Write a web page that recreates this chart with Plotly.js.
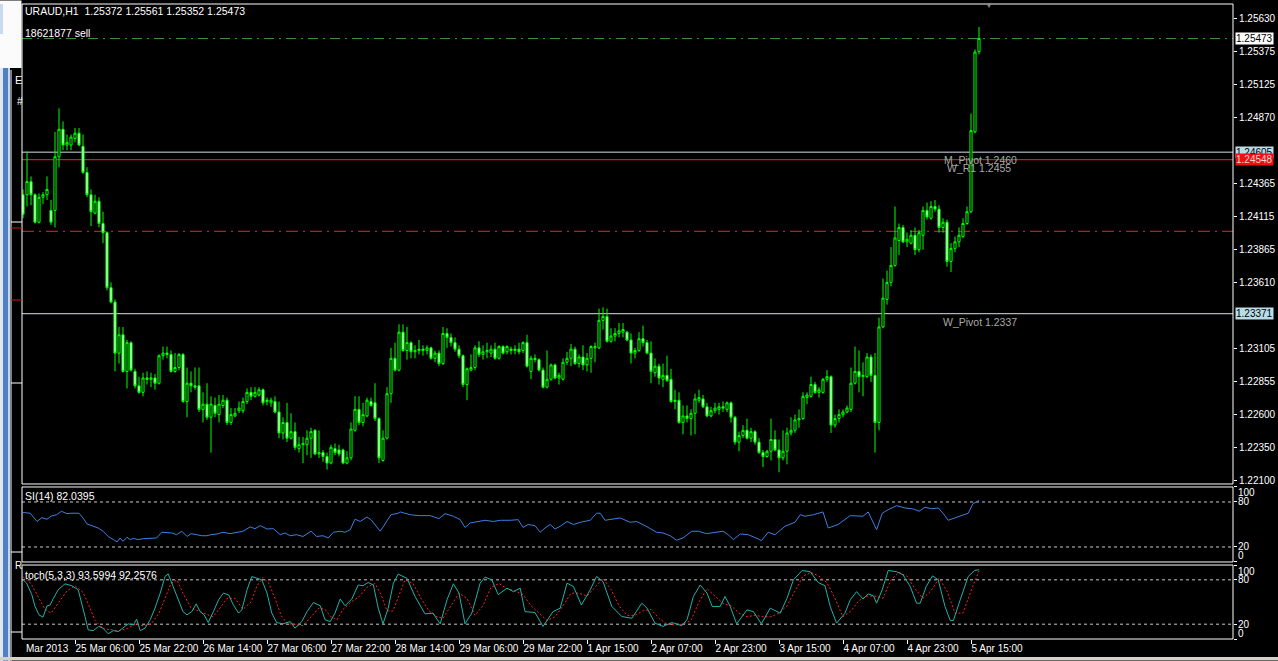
<!DOCTYPE html>
<html><head><meta charset="utf-8">
<script src="https://cdn.plot.ly/plotly-3.0.1.min.js"></script>
<style>html,body{margin:0;padding:0;background:#000;overflow:hidden}#chart{width:1278px;height:661px}</style>
</head><body><div id="chart"></div>
<script>
// ---------- DATA (EURAUD H1) ----------
const FIRST_BAR = 3;
const open = [
1.2428,1.2428,1.2438,1.2428,1.2407,1.2426,1.2428,
1.2416,1.2416,1.2457,1.2478,1.2466,1.2466,1.2471,1.2475,1.2465,1.2445,
1.2428,1.2414,1.2423,1.2406,1.2399,1.2357,1.2346,1.2307,1.2321,1.2293,
1.2315,1.2293,1.2282,1.2277,1.2288,1.2287,1.2288,1.2284,1.2305,1.2307,
1.2306,1.2293,1.2296,1.2306,1.2270,1.2284,1.2282,1.2282,1.2264,1.2268,
1.2258,1.2267,1.2260,1.2267,1.2271,1.2254,1.2259,1.2263,1.2263,1.2270,
1.2277,1.2274,1.2275,1.2279,1.2270,1.2269,1.2270,1.2262,1.2246,1.2254,
1.2242,1.2247,1.2234,1.2237,1.2237,1.2242,1.2248,1.2230,1.2231,1.2228,
1.2223,1.2234,1.2233,1.2233,1.2223,1.2227,1.2248,1.2264,1.2254,1.2259,
1.2270,1.2269,1.2257,1.2225,1.2242,1.2276,1.2303,1.2294,1.2323,1.2309,
1.2315,1.2308,1.2309,1.2310,1.2309,1.2311,1.2303,1.2307,1.2299,1.2322,
1.2319,1.2315,1.2310,1.2305,1.2283,1.2294,1.2296,1.2311,1.2306,1.2308,
1.2307,1.2310,1.2303,1.2312,1.2308,1.2310,1.2309,1.2310,1.2309,1.2315,
1.2293,1.2303,1.2302,1.2294,1.2281,1.2287,1.2298,1.2288,1.2287,1.2300,
1.2303,1.2310,1.2299,1.2304,1.2298,1.2303,1.2311,1.2311,1.2332,1.2335,
1.2316,1.2320,1.2322,1.2323,1.2323,1.2317,1.2307,1.2309,1.2318,1.2315,
1.2307,1.2292,1.2297,1.2287,1.2290,1.2287,1.2270,1.2271,1.2254,1.2259,
1.2257,1.2261,1.2271,1.2272,1.2266,1.2259,1.2263,1.2264,1.2266,1.2264,
1.2269,1.2258,1.2239,1.2244,1.2248,1.2242,1.2247,1.2239,1.2231,1.2228,
1.2232,1.2241,1.2233,1.2227,1.2232,1.2246,1.2248,1.2256,1.2257,1.2273,
1.2274,1.2283,1.2277,1.2277,1.2287,1.2289,1.2252,1.2257,1.2260,1.2262,
1.2264,1.2284,1.2293,1.2289,1.2289,1.2304,1.2290,1.2254,1.2327,1.2348,
1.2361,1.2374,1.2393,1.2403,1.2392,1.2391,1.2397,1.2386,1.2397,1.2416,
1.2410,1.2419,1.2417,1.2403,1.2407,1.2377,1.2387,1.2392,1.2396,1.2406,
1.2415,1.2476,1.25372];
const high = [
1.2432,1.2461,1.2442,1.2429,1.2429,1.2430,1.2442,
1.2424,1.2476,1.2494,1.2484,1.2474,1.2474,1.2479,1.2479,1.2474,1.2449,
1.2432,1.2428,1.2426,1.2415,1.2400,1.2361,1.2348,1.2327,1.2327,1.2317,
1.2316,1.2295,1.2289,1.2292,1.2293,1.2292,1.2291,1.2306,1.2312,1.2312,
1.2309,1.2307,1.2307,1.2307,1.2296,1.2293,1.2296,1.2296,1.2277,1.2284,
1.2274,1.2273,1.2275,1.2275,1.2273,1.2265,1.2265,1.2270,1.2273,1.2280,
1.2281,1.2281,1.2281,1.2280,1.2273,1.2273,1.2274,1.2270,1.2258,1.2269,
1.2261,1.2254,1.2243,1.2243,1.2248,1.2250,1.2249,1.2248,1.2233,1.2231,
1.2237,1.2238,1.2237,1.2234,1.2232,1.2254,1.2274,1.2274,1.2269,1.2273,
1.2273,1.2284,1.2258,1.2248,1.2281,1.2311,1.2315,1.2329,1.2329,1.2327,
1.2316,1.2313,1.2317,1.2313,1.2313,1.2312,1.2309,1.2309,1.2327,1.2326,
1.2322,1.2319,1.2313,1.2306,1.2296,1.2306,1.2313,1.2316,1.2313,1.2315,
1.2313,1.2315,1.2313,1.2313,1.2313,1.2312,1.2313,1.2315,1.2316,1.2321,
1.2305,1.2306,1.2303,1.2296,1.2309,1.2299,1.2299,1.2292,1.2303,1.2308,
1.2314,1.2312,1.2306,1.2313,1.2307,1.2313,1.2315,1.2341,1.2342,1.2341,
1.2326,1.2326,1.2330,1.2330,1.2324,1.2322,1.2311,1.2323,1.2328,1.2317,
1.2316,1.2303,1.2299,1.2299,1.2305,1.2295,1.2279,1.2277,1.2267,1.2267,
1.2264,1.2276,1.2279,1.2275,1.2269,1.2266,1.2269,1.2269,1.2270,1.2270,
1.2270,1.2259,1.2247,1.2252,1.2257,1.2250,1.2248,1.2242,1.2233,1.2233,
1.2257,1.2248,1.2241,1.2248,1.2250,1.2258,1.2260,1.2264,1.2277,1.2277,
1.2289,1.2285,1.2281,1.2288,1.2294,1.2290,1.2260,1.2264,1.2264,1.2267,
1.2296,1.2312,1.2309,1.2300,1.2307,1.2306,1.2307,1.2334,1.2364,1.2370,
1.2388,1.2419,1.2406,1.2405,1.2399,1.2401,1.2403,1.2401,1.2419,1.2422,
1.2423,1.2424,1.2420,1.2410,1.2409,1.2391,1.2396,1.2403,1.2410,1.2419,
1.2490,1.2539,1.25561];
const low = [
1.2410,1.2419,1.2420,1.2406,1.2406,1.2421,1.2424,
1.2405,1.2403,1.2449,1.2462,1.2462,1.2462,1.2468,1.2465,1.2444,1.2426,
1.2404,1.2413,1.2403,1.2391,1.2355,1.2345,1.2293,1.2299,1.2292,1.2280,
1.2293,1.2280,1.2276,1.2274,1.2283,1.2281,1.2279,1.2283,1.2302,1.2303,
1.2292,1.2292,1.2294,1.2269,1.2258,1.2277,1.2279,1.2262,1.2254,1.2256,
1.2231,1.2258,1.2254,1.2265,1.2252,1.2252,1.2258,1.2261,1.2261,1.2268,
1.2271,1.2273,1.2274,1.2267,1.2267,1.2266,1.2261,1.2242,1.2241,1.2239,
1.2241,1.2233,1.2231,1.2223,1.2229,1.2227,1.2229,1.2227,1.2224,1.2218,
1.2222,1.2229,1.2228,1.2222,1.2222,1.2225,1.2247,1.2252,1.2251,1.2258,
1.2266,1.2255,1.2223,1.2224,1.2241,1.2269,1.2293,1.2293,1.2308,1.2302,
1.2303,1.2303,1.2306,1.2305,1.2306,1.2302,1.2300,1.2297,1.2298,1.2311,
1.2312,1.2308,1.2303,1.2281,1.2271,1.2293,1.2294,1.2304,1.2302,1.2303,
1.2304,1.2302,1.2302,1.2306,1.2306,1.2306,1.2306,1.2306,1.2307,1.2296,
1.2287,1.2300,1.2293,1.2280,1.2280,1.2286,1.2287,1.2283,1.2286,1.2298,
1.2297,1.2298,1.2296,1.2294,1.2293,1.2292,1.2300,1.2310,1.2325,1.2315,
1.2315,1.2316,1.2319,1.2319,1.2316,1.2299,1.2303,1.2308,1.2312,1.2306,
1.2284,1.2289,1.2283,1.2281,1.2285,1.2269,1.2264,1.2253,1.2245,1.2254,
1.2244,1.2245,1.2269,1.2265,1.2258,1.2258,1.2261,1.2260,1.2262,1.2262,
1.2254,1.2237,1.2232,1.2242,1.2241,1.2239,1.2237,1.2230,1.2220,1.2227,
1.2225,1.2232,1.2216,1.2225,1.2222,1.2244,1.2246,1.2250,1.2256,1.2268,
1.2273,1.2276,1.2273,1.2276,1.2285,1.2246,1.2250,1.2254,1.2258,1.2261,
1.2262,1.2283,1.2277,1.2274,1.2288,1.2285,1.2231,1.2248,1.2326,1.2344,
1.2358,1.2373,1.2382,1.2391,1.2388,1.2390,1.2382,1.2384,1.2386,1.2409,
1.2409,1.2415,1.2399,1.2399,1.2373,1.2369,1.2384,1.2388,1.2395,1.2405,
1.2414,1.2475,1.25352];
const close = [
1.2413,1.2438,1.2428,1.2407,1.2426,1.2428,1.2432,
1.2407,1.2457,1.2478,1.2466,1.2468,1.2472,1.2475,1.2466,1.2445,1.2428,
1.2415,1.2423,1.2406,1.2399,1.2357,1.2346,1.2307,1.2321,1.2293,1.2315,
1.2294,1.2282,1.2277,1.2288,1.2287,1.2288,1.2284,1.2305,1.2307,1.2306,
1.2293,1.2296,1.2306,1.2270,1.2284,1.2282,1.2281,1.2264,1.2268,1.2258,
1.2268,1.2261,1.2268,1.2271,1.2254,1.2260,1.2261,1.2265,1.2270,1.2277,
1.2274,1.2277,1.2279,1.2269,1.2271,1.2271,1.2262,1.2246,1.2254,1.2242,
1.2247,1.2235,1.2237,1.2238,1.2242,1.2247,1.2230,1.2231,1.2228,1.2223,
1.2235,1.2231,1.2230,1.2223,1.2227,1.2249,1.2264,1.2254,1.2260,1.2271,
1.2267,1.2257,1.2227,1.2242,1.2276,1.2303,1.2294,1.2323,1.2309,1.2315,
1.2308,1.2309,1.2310,1.2309,1.2311,1.2303,1.2307,1.2299,1.2322,1.2319,
1.2315,1.2310,1.2305,1.2283,1.2295,1.2296,1.2311,1.2306,1.2308,1.2309,
1.2310,1.2303,1.2312,1.2307,1.2312,1.2309,1.2310,1.2308,1.2315,1.2297,
1.2303,1.2302,1.2294,1.2281,1.2287,1.2298,1.2288,1.2290,1.2300,1.2303,
1.2310,1.2299,1.2304,1.2298,1.2303,1.2312,1.2312,1.2332,1.2335,1.2316,
1.2320,1.2322,1.2324,1.2325,1.2317,1.2307,1.2309,1.2318,1.2315,1.2307,
1.2293,1.2297,1.2288,1.2290,1.2286,1.2270,1.2271,1.2254,1.2259,1.2257,
1.2261,1.2272,1.2273,1.2266,1.2259,1.2263,1.2265,1.2266,1.2265,1.2269,
1.2258,1.2239,1.2244,1.2248,1.2242,1.2247,1.2239,1.2231,1.2228,1.2232,
1.2241,1.2233,1.2227,1.2232,1.2246,1.2248,1.2256,1.2257,1.2274,1.2275,
1.2283,1.2277,1.2279,1.2287,1.2289,1.2252,1.2257,1.2260,1.2262,1.2265,
1.2284,1.2293,1.2289,1.2290,1.2304,1.2290,1.2254,1.2327,1.2349,1.2361,
1.2374,1.2395,1.2403,1.2392,1.2394,1.2397,1.2386,1.2399,1.2416,1.2411,
1.2419,1.2417,1.2403,1.2407,1.2377,1.2387,1.2392,1.2397,1.2406,1.2415,
1.2477,1.2537,1.25473];

// RSI(14): [bar, value]
const rsiPoints = [[3,66],[4.8,65],[6.5,54],[7.7,59],[9,57],[10,61],[11.4,63],[12.6,67.6],[14,64.4],[15,65],[17,65],[18,58.7],[19,50.7],[20.5,47.6],[21.8,45.3],[23,41],[24.3,34],[25.6,29.8],[26.5,26.7],[27.3,32],[28,27.6],[29,33],[29.8,29.8],[30.6,31.5],[31.8,29.8],[33,31],[34.8,32],[36.4,32],[37.7,39.6],[39,39.6],[40.2,38.7],[41.4,36.4],[42.7,41],[44,34],[45,37.8],[46.4,36.4],[47.7,35],[49,35],[50,36.4],[51.5,37.3],[53,39.6],[54.8,37.8],[56.4,39.6],[58,41],[59.8,46.7],[61,44.4],[62.3,48.4],[64,44],[65.6,44.4],[67.3,36.4],[68.5,38.7],[69.8,35],[71.4,36.4],[73,34],[75,41],[76.4,34],[78,35],[79.3,32],[80.6,39.6],[82.3,41],[83.5,39.6],[84.8,43],[86,57],[87.3,54],[89,60],[90,56.4],[92.3,41],[94,54],[95,63],[96.8,65],[97.3,66.7],[99.8,63],[102,61.8],[104.8,61.8],[107,57.8],[108.5,64.4],[110.6,61],[112.3,56.4],[113.5,46],[114.8,52],[116.4,54],[118.5,55.6],[120.6,54],[122.3,55.6],[124.8,55.6],[126.8,56.4],[128,46],[129.3,50],[131,48.4],[132.3,39.6],[133.5,45.3],[134.8,50],[136,44],[137.3,47.6],[139,54],[140.6,50],[142.6,53.3],[144.8,55.6],[146.4,65],[147.3,65],[148.5,55.6],[150.6,57.3],[152.3,58.7],[154.8,52.9],[156.4,54],[158.5,48.4],[160.2,43],[161.4,39.6],[163,38.7],[164.8,35],[166.4,29],[168,32],[170.2,41],[171.8,41],[173.9,37.8],[176,39.6],[178,41],[179.3,36.4],[180.6,29.8],[182.3,37.3],[184.3,36.4],[186.8,30.7],[187.6,28.4],[189.3,39.6],[191,36.4],[193.5,47.6],[196,53],[197.3,63],[198.5,61],[200.6,63],[203,66.7],[204.3,45.3],[206.8,50],[209.8,61.8],[213,61],[214.3,66.7],[216.4,43],[217.8,65],[219.3,69.8],[221.4,75],[223.5,72],[225.6,70.7],[227,67.6],[228.5,72.9],[230.2,71],[231.8,72],[233,65],[234.3,55.6],[236,58.7],[238.1,61.8],[239.3,65],[240.5,77.8],[241.4,81],[242,82.04]];

// Stochastic(5,3,3) main %K: [bar, value]
const stochMainPoints = [[3,80],[3.9,75.5],[5.2,60],[6,44],[7,32.6],[8,29.5],[9,44.8],[9.8,46],[10.6,55],[11.8,66.5],[13.5,74.6],[15.2,72],[16.8,66.5],[17.6,50.7],[18.5,30.4],[19.3,12.3],[20.6,11.4],[21.9,17],[23,14.6],[24.3,7],[25.6,11.4],[26.8,10],[28,14.6],[29.3,20.5],[30.6,19],[31.4,26.8],[32.3,11.4],[33.5,14.6],[34.8,26],[36,41.7],[37.3,62],[38.5,84.5],[39.3,88],[40.6,71],[41.8,55],[43,37],[44,32.6],[45.2,37],[46.3,47.5],[47.3,37],[48.3,32.6],[49.3,22.3],[50.6,37],[51.9,53],[53.1,62],[54.4,59.7],[55.6,46],[56.9,35],[57.7,39.4],[59,66.5],[60.2,84.5],[61.4,82],[62.7,80],[64,62],[65.2,35],[66.4,22.3],[68,20.5],[69.8,23.6],[71,14.6],[72.7,23.6],[74,37],[75.6,49.3],[77.3,45],[78.5,26],[79.8,23.6],[81,35],[82.3,54],[83.5,45],[85.2,54],[86.8,73],[88,72],[89.3,76.4],[90.6,73],[91.8,41.7],[93,20.5],[94.3,41.7],[95.6,75.5],[96.8,87.7],[99,82],[101,57.5],[103.5,34],[105.5,35],[107.3,20.5],[109,53],[110.6,74.6],[112,62],[113.5,20.5],[115.2,35],[117.3,75.5],[118.5,83.6],[120.2,80],[121.8,60],[124,68.7],[125.6,64],[127.3,68.7],[128.5,37],[131,35.8],[133,17],[135.5,37],[137.3,41.7],[139,75.5],[140.6,71],[142.6,46],[144.8,66.5],[146.4,84.5],[148,77.7],[150.2,44],[152.7,30.4],[155.2,28],[157.7,48.4],[159,41.7],[161,21.4],[163,17],[165.2,22.3],[167.7,18],[169,26],[170.6,57.5],[172.3,73],[174,62],[175.3,44],[177.3,44],[178.5,57.5],[179.8,44],[181.4,20.5],[184,39.4],[185.6,37],[187.6,20.5],[189.8,41.7],[192.3,35],[194,55],[195.6,80],[197.8,92.6],[199.8,91],[201.8,76.4],[203.5,72],[204.8,44],[206.4,21.4],[208.5,35],[209.8,53],[211.4,64],[213,54],[214.3,61],[215.6,58.4],[216.4,48.4],[217.8,66.5],[219.3,92.6],[221.4,91],[223,86.8],[224.8,71],[226.4,48.4],[227.3,48.4],[228.8,71],[230.4,85.4],[231.8,80],[233.5,44],[234.8,25],[235.6,25],[237.3,53],[239.3,84.5],[240.9,92.6],[242,93.6]];

// Stochastic signal %D: [bar, value]
const stochSignalPoints = [[3,84],[5,75],[7,55],[8.5,40],[10,35],[12,50],[14,65],[16,72],[18,63],[19.5,45],[21,25],[23,14],[25,12],[27,11],[29,14],[31,20],[33,18],[35,20],[37,35],[38.5,55],[40,75],[41.5,80],[43,62],[45,42],[47,38],[49,33],[50.5,30],[52,40],[54,55],[56,55],[58,40],[60,50],[61.5,72],[63,83],[64.5,75],[66,55],[67.5,32],[69,21],[71,20],[73,18],[75,30],[77,42],[78.5,40],[80,30],[81.5,26],[83,40],[85,50],[87,57],[89,70],[91,75],[92.5,60],[94,38],[95.5,38],[97,60],[98.5,80],[100.5,75],[102.5,55],[104.5,38],[106.5,30],[108,28],[110,45],[112,62],[114,55],[116,32],[118,45],[120,70],[122,75],[124,68],[126,65],[128,60],[130,45],[132,35],[134,25],[136,30],[138,45],[140,62],[142,62],[144,58],[146,70],[148,82],[150,67],[152,45],[154,32],[156,32],[158,38],[160,40],[162,28],[164,20],[166,19],[168,20],[170,25],[172,50],[174,68],[176,58],[178,48],[180,45],[182,35],[184,30],[186,32],[188,30],[190,30],[192,35],[194,45],[196,65],[198,85],[200,90],[202,85],[204,76],[206,55],[208,30],[210,38],[212,52],[214,58],[216,58],[218,55],[220,80],[222,90],[224,85],[226,68],[228,55],[230,65],[232,82],[234,65],[236,35],[238,35],[240,65],[242,92.26]];

const timeTickBars = [16,32,48,64,80,96,112,128,144,160,176,192,208,224,240];
const timeTickLabels = ["25 Mar 06:00","25 Mar 22:00","26 Mar 14:00","27 Mar 06:00","27 Mar 22:00","28 Mar 14:00","29 Mar 06:00","29 Mar 22:00","1 Apr 15:00","2 Apr 07:00","2 Apr 23:00","3 Apr 15:00","4 Apr 07:00","4 Apr 23:00","5 Apr 15:00"];
const priceTicks = [1.25630,1.25375,1.25125,1.24870,1.24365,1.24115,1.23865,1.23610,1.23105,1.22855,1.22600,1.22350,1.22100];
const priceTickLabels = ["1.25630","1.25375","1.25125","1.24870","1.24365","1.24115","1.23865","1.23610","1.23105","1.22855","1.22600","1.22350","1.22100"];
const indicatorLevels = [80, 20];
const indicatorTicks = [100, 80, 20, 0];

const ORDER_LEVEL = 1.25473;   // #18621877 sell
const M_PIVOT = 1.24605;
const W_R1 = 1.24548;
const SL_LEVEL = 1.2400;
const W_PIVOT = 1.23371;

// ---------- BUILD ----------
const bars = open.map((_, i) => FIRST_BAR + i);
const FONT = "Liberation Sans, Arial, sans-serif";

const traces = [
  {type:'candlestick', x:bars, open:open, high:high, low:low, close:close,
   xaxis:'x', yaxis:'y', whiskerwidth:0, hoverinfo:'skip', showlegend:false,
   increasing:{line:{color:'#00ff00', width:1}, fillcolor:'#000000'},
   decreasing:{line:{color:'#00ff00', width:1}, fillcolor:'#e8ffe8'}},
  {type:'scatter', mode:'lines', x:rsiPoints.map(p=>p[0]), y:rsiPoints.map(p=>p[1]),
   xaxis:'x', yaxis:'y2', line:{color:'#3d7fe0', width:1}, showlegend:false, hoverinfo:'skip'},
  {type:'scatter', mode:'lines', x:stochSignalPoints.map(p=>p[0]), y:stochSignalPoints.map(p=>p[1]),
   xaxis:'x', yaxis:'y3', line:{color:'#ff2020', width:1, dash:'2px,2px'}, showlegend:false, hoverinfo:'skip'},
  {type:'scatter', mode:'lines', x:stochMainPoints.map(p=>p[0]), y:stochMainPoints.map(p=>p[1]),
   xaxis:'x', yaxis:'y3', line:{color:'#20b2aa', width:1}, showlegend:false, hoverinfo:'skip'}
];

// pixel helpers for layout decoration (margins l=22, t=4, plot 1211x635)
const px = v => (v - 22) / 1211;
const py = v => (639 - v) / 635;

const MAIN_DOM = [0.2441, 1];
const RSI_DOM = [0.1213, 0.2394];
const STO_DOM = [0, 0.1165];

const shapes = [];
function hline(yref, y, color, dash, width){
  shapes.push({type:'line', xref:'paper', yref:yref, x0:0, x1:1, y0:y, y1:y,
    line:{color:color, width:width||1, dash:dash||'solid'}, layer:'below'});
}
hline('y', ORDER_LEVEL, '#3a9a3a', '10px,5px,2px,5px');
hline('y', M_PIVOT, '#d8dde6', 'solid');
hline('y', W_R1, '#d41a1a', 'solid', 1.3);
hline('y', SL_LEVEL, '#c41818', '12px,5px,2px,5px', 1.2);
hline('y', W_PIVOT, '#d8dde6', 'solid');
indicatorLevels.forEach(l => { hline('y2', l, '#c8c8c8', '3px,3px'); hline('y3', l, '#c8c8c8', '3px,3px'); });

// panel frames
[MAIN_DOM, RSI_DOM, STO_DOM].forEach(d => shapes.push({type:'rect', xref:'paper', yref:'paper',
  x0:0, x1:1, y0:d[0], y1:d[1], line:{color:'#ffffff', width:1}, fillcolor:'rgba(0,0,0,0)', layer:'above'}));

// left neighbouring window decoration
function box(x0, x1, y0, y1, color){
  shapes.push({type:'rect', xref:'paper', yref:'paper',
    x0:px(x0), x1:px(x1), y0:py(y1), y1:py(y0),
    fillcolor:color, line:{width:0}, layer:'above'});
}
box(0, 21.5, 4, 68, '#fbfbfb');
box(0, 21.5, 0.5, 4, '#fbfbfb');
box(0, 3, 4, 34, '#c9d9ee');
box(0, 3, 68, 661, '#dfe7f1');
box(3, 8, 68, 661, '#4f7fc4');
box(8, 10, 68, 661, '#c8d6ea');
shapes.push({type:'line', xref:'paper', yref:'paper', x0:px(11), x1:px(11), y0:py(661), y1:py(70), line:{color:'#ffffff', width:1}, layer:'above'});
[222, 383, 552, 632].forEach(v => shapes.push({type:'line', xref:'paper', yref:'paper', x0:px(11), x1:px(22), y0:py(v), y1:py(v), line:{color:'#ffffff', width:1}, layer:'above'}));
[228, 300].forEach(v => shapes.push({type:'line', xref:'paper', yref:'paper', x0:px(11), x1:px(22), y0:py(v), y1:py(v), line:{color:'#c41818', width:1}, layer:'above'}));
// bottom window border
box(0, 1278, 657, 660.5, '#d4d0c8');

const white10 = {family:FONT, size:10, color:'#ffffff'};
const ann = [];
function txt(x, y, text, extra){ ann.push(Object.assign({xref:'paper', yref:'paper', x:x, y:y, text:text, showarrow:false, xanchor:'left', yanchor:'middle', font:white10}, extra||{})); }
txt(px(23), py(11), 'URAUD,H1\u00a0\u00a01.25372 1.25561 1.25352 1.25473', {font:{family:FONT, size:10.5, color:'#ffffff'}});
txt(px(23), py(33), '18621877 sell', {font:{family:FONT, size:10.5, color:'#ffffff'}});
txt(px(23), py(496), 'SI(14) 82.0395', {font:{family:FONT, size:10.5, color:'#ffffff'}});
txt(px(23), py(575), 'toch(5,3,3) 93.5994 92.2576', {font:{family:FONT, size:10.5, color:'#ffffff'}});
txt(px(24), py(648), 'Mar 2013');
txt(px(13), py(80), 'E', {font:{family:FONT, size:11, color:'#ffffff'}});
txt(px(15), py(102), '#', {font:{family:FONT, size:10, color:'#ffffff'}});
txt(px(13), py(565), 'R', {font:{family:FONT, size:10, color:'#ffffff'}});
txt(px(983), py(5), '\u25BC', {font:{family:FONT, size:8, color:'#8a8a8a'}});

// level captions
const grayTxt = {family:FONT, size:10.5, color:'#a8a8a8'};
ann.push({xref:'x', yref:'y', x:232.75, y:M_PIVOT, text:'M_Pivot 1.2460', showarrow:false, xanchor:'left', yanchor:'top', font:grayTxt});
ann.push({xref:'x', yref:'y', x:233.5, y:W_R1, text:'W_R1 1.2455', showarrow:false, xanchor:'left', yanchor:'top', font:grayTxt});
ann.push({xref:'x', yref:'y', x:232.5, y:W_PIVOT, text:'W_Pivot 1.2337', showarrow:false, xanchor:'left', yanchor:'top', font:grayTxt});

// price labels on the axis
function plabel(y, text, bg, fg){
  ann.push({xref:'paper', yref:'y', x:1, y:y, text:text, showarrow:false, xanchor:'left', yanchor:'middle',
    xshift:2, bgcolor:bg, borderpad:0, font:{family:FONT, size:10, color:fg}});
}
plabel(ORDER_LEVEL, '1.25473', '#ffffff', '#000000');
plabel(M_PIVOT, '1.24605', '#b9dde8', '#000000');
plabel(W_R1, '1.24548', '#ee1010', '#ffd0d0');
plabel(W_PIVOT, '1.23371', '#b9dde8', '#000000');

// indicator scale labels
function ilabel(yref, v, shift){
  ann.push({xref:'paper', yref:yref, x:1, y:v, text:String(v), showarrow:false, xanchor:'left', yanchor:'middle', xshift:3, yshift:shift, font:white10});
}
['y2','y3'].forEach(r => { ilabel(r, 100, -6); ilabel(r, 80, 0); ilabel(r, 20, 0); ilabel(r, 0, 6); });

const layout = {
  width:1278, height:661,
  margin:{l:22, r:45, t:4, b:22, pad:0},
  paper_bgcolor:'#000000', plot_bgcolor:'#000000',
  font:{family:FONT, size:10, color:'#ffffff'},
  showlegend:false, hovermode:false,
  boxgap:0.25,
  xaxis:{domain:[0,1], anchor:'y3', range:[2.75, 305.5], showgrid:false, zeroline:false, showline:false,
    tickmode:'array', tickvals:timeTickBars, ticktext:timeTickLabels, ticks:'outside', ticklen:4, tickcolor:'#ffffff',
    tickangle:0, ticklabelposition:'outside right', tickfont:white10, rangeslider:{visible:false}},
  yaxis:{domain:MAIN_DOM, anchor:'x', side:'right', range:[1.22070, 1.25737], showgrid:false, zeroline:false,
    tickmode:'array', tickvals:priceTicks, ticktext:priceTickLabels, ticks:'outside', ticklen:3, tickcolor:'#ffffff', tickfont:white10},
  yaxis2:{domain:RSI_DOM, anchor:'x', side:'right', range:[0,100], showgrid:false, zeroline:false,
    tickmode:'array', tickvals:indicatorTicks, ticks:'outside', ticklen:3, tickcolor:'#ffffff', showticklabels:false},
  yaxis3:{domain:STO_DOM, anchor:'x', side:'right', range:[0,100], showgrid:false, zeroline:false,
    tickmode:'array', tickvals:indicatorTicks, ticks:'outside', ticklen:3, tickcolor:'#ffffff', showticklabels:false},
  shapes:shapes, annotations:ann
};
Plotly.newPlot('chart', traces, layout, {displayModeBar:false, staticPlot:true});
</script></body></html>
